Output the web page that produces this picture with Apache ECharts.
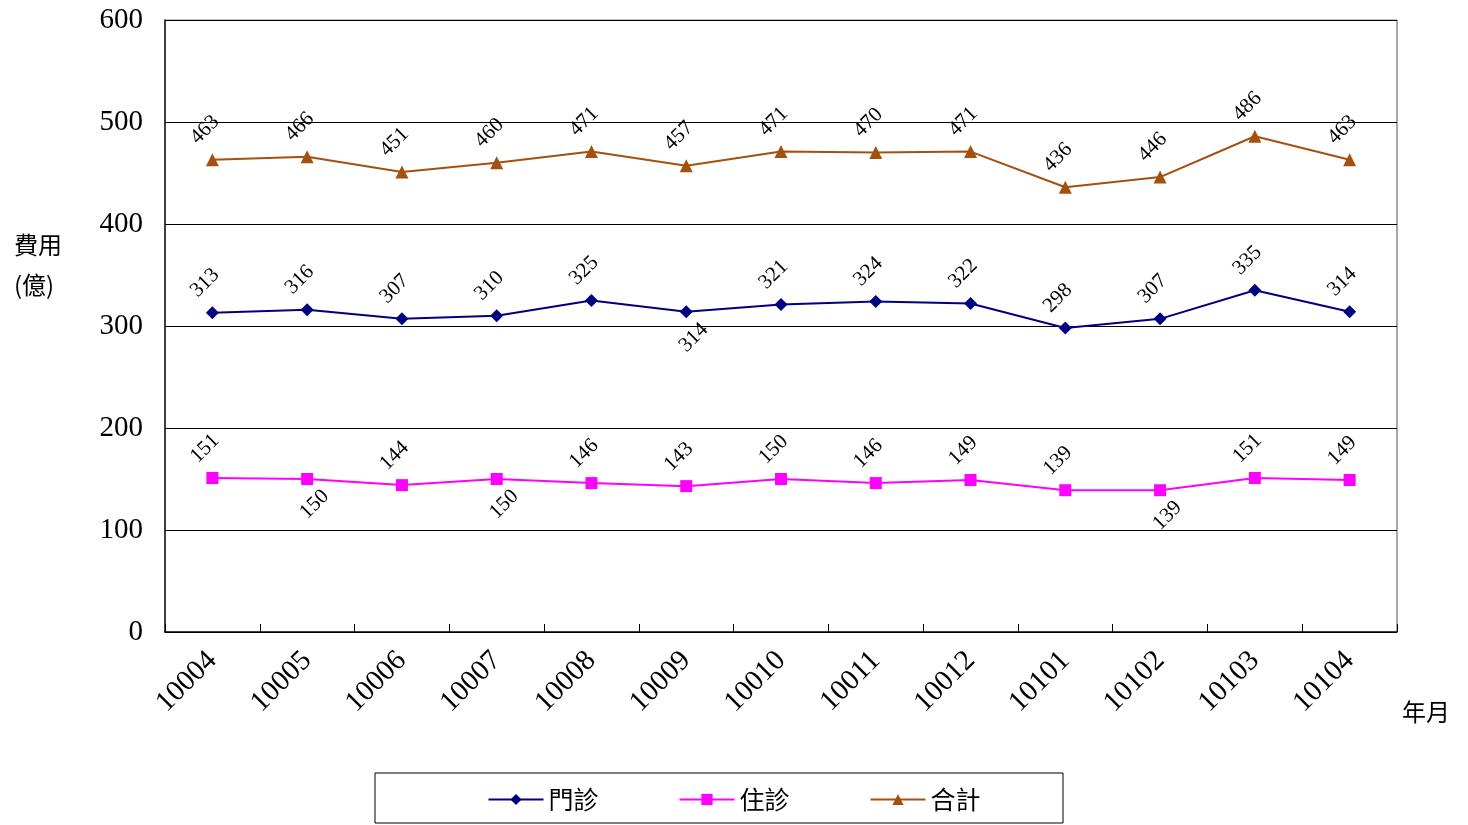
<!DOCTYPE html>
<html><head><meta charset="utf-8">
<script src="https://cdn.jsdelivr.net/npm/echarts@6/dist/echarts.min.js"></script>
<style>html,body{margin:0;background:#fff}#c{width:1468px;height:825px}</style>
</head><body><div id="c"></div>
<script>
const categories=['10004','10005','10006','10007','10008','10009','10010','10011','10012','10101','10102','10103','10104'];
const outpatient=[313,316,307,310,325,314,321,324,322,298,307,335,314];
const inpatient=[151,150,144,150,146,143,150,146,149,139,139,151,149];
const total=[463,466,451,460,471,457,471,470,471,436,446,486,463];
const outBelow=[5];
const inBelow=[1,3,10];
const F='"Liberation Serif","DejaVu Serif",serif';
const CJK='"Noto Sans CJK TC",sans-serif';
function mk(vals,below){
  return vals.map((v,i)=>({value:v,label:{position:below.includes(i)?'bottom':'top',distance:below.includes(i)?12:16}}));
}
const lbl={show:true,rotate:45,fontFamily:F,fontSize:21,color:'#000'};
const chart=echarts.init(document.getElementById('c'));
chart.setOption({
  animation:false,
  grid:{left:165,right:71,top:20,bottom:193},
  xAxis:{type:'category',data:categories,boundaryGap:true,
    axisLine:{lineStyle:{color:'#000',width:1.5}},axisTick:{show:true,length:8,inside:true,lineStyle:{color:'#000'}},
    axisLabel:{rotate:45,fontFamily:F,fontSize:29,color:'#000',margin:24}},
  yAxis:{type:'value',min:0,max:600,interval:100,
    axisLine:{show:true,lineStyle:{color:'#000',width:1.5}},axisTick:{show:true,length:8,inside:true,lineStyle:{color:'#000'}},
    splitLine:{lineStyle:{color:'#000',width:1}},
    axisLabel:{fontFamily:F,fontSize:29,color:'#000',margin:22}},
  graphic:[
    {type:'text',left:14,top:225,style:{text:'費用\n(億)',font:'24px '+CJK,fill:'#000',lineHeight:40,align:'center'}},
    {type:'text',left:1402,top:700,style:{text:'年月',font:'24px '+CJK,fill:'#000'}},
    {type:'rect',shape:{x:375,y:773,width:688,height:50},style:{fill:'none',stroke:'#000',lineWidth:1}},
    {type:'line',shape:{x1:1397,y1:20,x2:1397,y2:632},style:{stroke:'#888',lineWidth:1.5}},
    {type:'line',shape:{x1:165,y1:20,x2:1397,y2:20},style:{stroke:'#888',lineWidth:1}}
  ],
  legend:{bottom:8,left:'center',itemGap:80,itemWidth:55,itemHeight:14,
    textStyle:{fontFamily:CJK,fontSize:25,color:'#000'},
    data:['門診','住診','合計']},
  series:[
    {name:'門診',type:'line',data:mk(outpatient,outBelow),symbol:'diamond',symbolSize:13,
      lineStyle:{color:'#000080',width:2},itemStyle:{color:'#000080'},label:lbl},
    {name:'住診',type:'line',data:mk(inpatient,inBelow),symbol:'rect',symbolSize:12,
      lineStyle:{color:'#FF00FF',width:2},itemStyle:{color:'#FF00FF'},label:lbl},
    {name:'合計',type:'line',data:mk(total,[]),symbol:'triangle',symbolSize:13,
      lineStyle:{color:'#A5500F',width:2},itemStyle:{color:'#A5500F'},label:lbl}
  ]
});
</script></body></html>
